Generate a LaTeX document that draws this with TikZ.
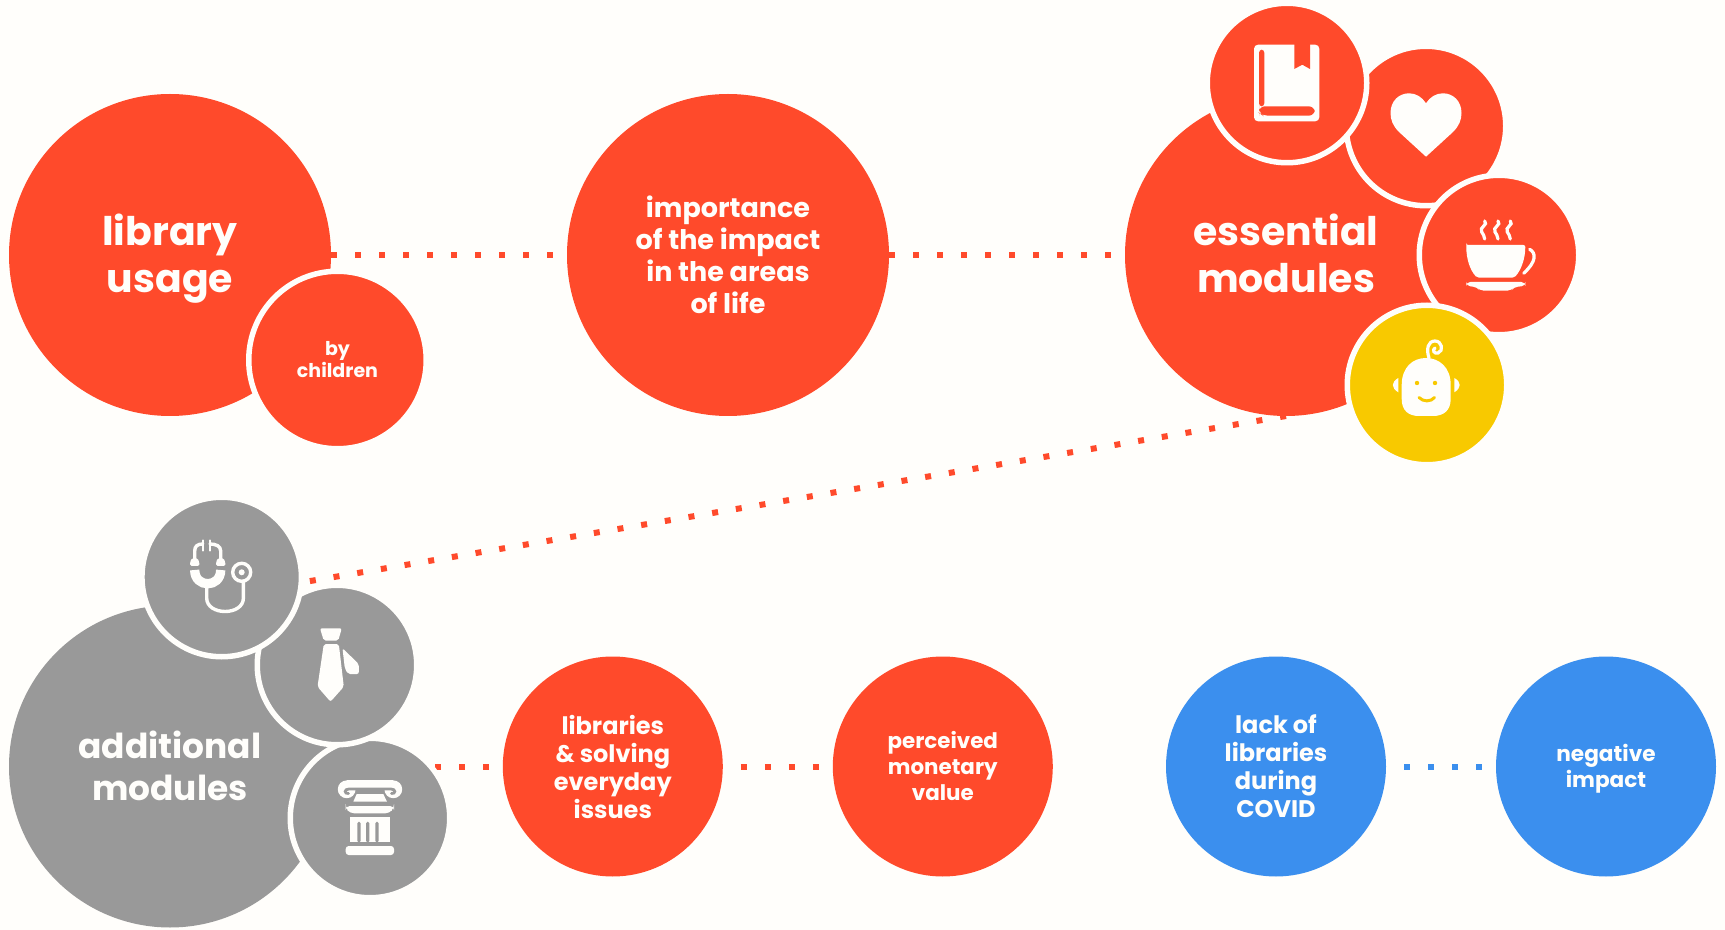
\documentclass[tikz,border=0pt]{standalone}
\usepackage{fontspec}
\setmainfont{Poppins}
\usetikzlibrary{shapes,arrows,backgrounds}
\definecolor{paper}{HTML}{FFFEFB}
\definecolor{redfill}{HTML}{FF4A2B}
\definecolor{greyfill}{HTML}{999999}
\definecolor{bluefill}{HTML}{3B8FEE}
\definecolor{yellowfill}{HTML}{F8C900}
\newcommand{\lift}[1]{\rule[-#1]{0pt}{#1}}
\tikzstyle{bubble} = [circle, inner sep=0pt, outer sep=0pt, text=paper, align=center, font=\bfseries]
\tikzstyle{large} = [bubble, minimum size=161pt]
\tikzstyle{medium} = [bubble, minimum size=110pt]
\tikzstyle{ringed} = [bubble, draw=paper, line width=2.75pt, minimum size=79.75pt]
\tikzstyle{line} = [draw, line width=3pt, dash pattern=on 3pt off 9pt]
\tikzset{
  bookicon/.pic={
    \fill [paper, rounded corners=2pt] (-33,-38.3) rectangle (32.3,38.3);
    \fill [redfill, rounded corners=1.5pt] (-28,-33.3) -- (-22.7,-33.3) -- (-22.7,23.3) -- (-28,23.3) -- cycle;
    \fill [redfill, rounded corners=3pt] (-28,27) -- (-28,23.3) -- (27.7,23.3) -- (27.7,32.7) -- (-24,32.7) -- (-28,30) -- cycle;
    \fill [redfill] (7.3,-39) -- (23,-39) -- (23,-14) -- (15.3,-18.3) -- (7.3,-14) -- cycle;
  },
  hearticon/.pic={
    \fill [paper] (0,30.7) -- (-27,6) .. controls (-33,0) and (-35.5,-6) .. (-35.5,-13)
      .. controls (-35.5,-25) and (-27,-32.7) .. (-17,-32.7) .. controls (-10,-32.7) and (-4,-29) .. (0,-22.7)
      .. controls (4,-29) and (10,-32.7) .. (17,-32.7) .. controls (27,-32.7) and (35.5,-25) .. (35.5,-13)
      .. controls (35.5,-6) and (33,0) .. (27,6) -- cycle;
  },
  cupicon/.pic={
    \fill [paper, rounded corners=1pt] (-32.7,-10) -- (26.3,-10) .. controls (26.3,4) and (22,15) .. (15.3,22.7)
      -- (-22,22.7) .. controls (-29,15) and (-32.7,4) .. (-32.7,-10) -- cycle;
    \fill [paper, rounded corners=2pt] (-32.7,27) -- (26.3,27) -- (26.3,31) -- (15,32) -- (12,35.7) -- (-19,35.7) -- (-22,32) -- (-32.7,31) -- cycle;
    \draw [paper, line width=1.6pt, line cap=round] (30.7,-5.7) .. controls (37,-2) and (38,6) .. (24.7,18.3);
    \foreach \sx in {-15.3,-2,10.3}
      \draw [paper, line width=1.6pt, line cap=round] (\sx+1,-34) .. controls (\sx+5,-30) and (\sx-5,-28) .. (\sx-2,-23)
        .. controls (\sx-1,-21) and (\sx+1,-19) .. (\sx+1,-16);
  },
  babyicon/.pic={
    \fill [paper] (-25.3,0) .. controls (-25.3,-18) and (-14,-27) .. (-1,-27) .. controls (12,-27) and (23.7,-18) .. (23.7,0)
      -- (23.7,14) .. controls (23.7,26) and (16,31) .. (6,31) -- (-8,31) .. controls (-18,31) and (-25.3,26) .. (-25.3,14) -- cycle;
    \fill [paper] (-28.7,-7) .. controls (-36,-3) and (-36,3) .. (-28.7,7.3) -- cycle;
    \fill [paper] (27.3,-7) .. controls (34.5,-3) and (34.5,3) .. (27.3,7.3) -- cycle;
    \fill [yellowfill] (-10,-2) circle (2.2) (8,-2) circle (2.2);
    \draw [yellowfill, line width=1.5pt, line cap=round] (-8,12.5) .. controls (-4,17) and (4,17) .. (7.5,12.5);
    \draw [paper, line width=1.6pt, line cap=round] (2,-27) .. controls (-1,-36) and (1,-44) .. (8,-44)
      .. controls (15,-44) and (17,-34) .. (11,-32) .. controls (7,-31) and (5,-35) .. (8,-37);
  },
  stethoicon/.pic={
    \draw [paper, line width=1.7pt, line cap=round] (-27,-17) -- (-27,-26) .. controls (-27,-31) and (-24,-33) .. (-19,-33);
    \draw [paper, line width=1.7pt, line cap=round] (-1,-17) -- (-1,-26) .. controls (-1,-31) and (-6,-33) .. (-11.7,-33);
    \draw [paper, line width=1.1pt, line cap=round] (-19,-36.5) -- (-19,-26.5) (-11.7,-36.5) -- (-11.7,-26.5);
    \fill [paper, rounded corners=.8pt] (-31.7,-11) -- (-31.7,-15) -- (-29.5,-19) -- (-24.5,-19) -- (-22.3,-15) -- (-22.3,-11) -- cycle;
    \fill [paper, rounded corners=.8pt] (-5.7,-11) -- (-5.7,-15) -- (-3.5,-19) -- (1.5,-19) -- (3.7,-15) -- (3.7,-11) -- cycle;
    \draw [paper, line width=4.65pt] (-27,-7) .. controls (-27,11.3) and (-1,11.3) .. (-1,-7);
    \draw [paper, line width=1.7pt] (-15,8) -- (-15,21) .. controls (-15,39) and (21.7,39) .. (21.7,21) -- (21.7,4);
    \draw [paper, line width=1.7pt] (20,-4.7) circle (9);
    \fill [paper] (20,-4.7) circle (3);
  },
  tieicon/.pic={
    \fill [paper, rounded corners=1pt] (-17,-36.7) -- (4.8,-36.7) -- (1.2,-24.3) -- (-13.2,-24.3) -- cycle;
    \fill [paper, rounded corners=1pt] (-13.2,-21) -- (1.8,-21) -- (6.8,21.7) -- (-6.5,36.7) -- (-19.5,21.7) -- cycle;
    \fill [paper, rounded corners=1pt] (5.5,-16.7) -- (21.8,-1) -- (21.8,9) -- (11,9) -- (7.8,3.3) -- cycle;
  },
  columnicon/.pic={
    \fill [paper] (-23.3,-28.7) circle (8.9) (23.3,-28.7) circle (8.9);
    \fill [paper] (-23,-38) rectangle (23,-28);
    \draw [greyfill, line width=1.4pt, line cap=round] (-21.5,-24.5) .. controls (-26,-24) and (-26,-29) .. (-21,-29)
      -- (21,-29) .. controls (26,-29) and (26,-24) .. (21.5,-24.5);
    \fill [paper] (-13.3,-24) -- (13.3,-24) -- (17,-16.3) -- (-16.7,-16.3) -- cycle;
    \fill [paper, rounded corners=2pt] (-24.3,-12) -- (24,-12) -- (24,-10) -- (19.3,-4.7) -- (-20,-4.7) -- (-24.3,-10) -- cycle;
    \fill [paper] (-19.7,-.7) rectangle (19.7,23.7);
    \foreach \gx in {-11,-2.3,7}
      \fill [greyfill, rounded corners=.8pt] (\gx-1.7,3.7) rectangle (\gx+1.7,24.5);
    \fill [paper, rounded corners=1.5pt] (-24.3,28) rectangle (24,37);
  }
}
\begin{document}
\begin{tikzpicture}[x=.5pt, y=-.5pt, node distance=279pt]
	\useasboundingbox (0,0) rectangle (1725,930);

	\node [large, fill=redfill, font=\fontsize{19.7}{23.5}\selectfont\bfseries] (usage) at (170,255) {library\\\smash{usage}\lift{2pt}};
	\node [large, fill=redfill, font=\fontsize{13.5}{16}\selectfont\bfseries, right of=usage] (importance) {importance\\of the impact\\in the areas\\of life};
	\node [large, fill=redfill, font=\fontsize{19.7}{23.5}\selectfont\bfseries, right of=importance] (essential) {essential\\modules\lift{2pt}};
	\node [ringed, fill=redfill, minimum size=88.75pt, font=\fontsize{9.5}{11}\selectfont\bfseries] (children) at (337.5,360) {by\\children};

	\node [ringed, fill=redfill] (heart) at (1426,126) {};
	\node [ringed, fill=redfill] (book) at (1287,83) {};
	\node [ringed, fill=redfill] (cup) at (1499,255) {};
	\node [ringed, fill=yellowfill] (baby) at (1427,385) {};

	\node [large, fill=greyfill, font=\fontsize{17.2}{21}\selectfont\bfseries] (additional) at (170,766.5) {additional\\modules\lift{1pt}};
	\node [ringed, fill=greyfill] (column) at (370,818) {};
	\node [ringed, fill=greyfill] (tie) at (337,665) {};
	\node [ringed, fill=greyfill] (stetho) at (221.7,577) {};

	\node [medium, fill=redfill, font=\fontsize{12}{14}\selectfont\bfseries, right of=additional, node distance=221.4pt] (solving) {libraries\\\& solving\\everyday\\issues};
	\node [medium, fill=redfill, font=\fontsize{10.7}{13}\selectfont\bfseries, right of=solving, node distance=165pt] (monetary) {perceived\\monetary\\value};
	\node [medium, fill=bluefill, font=\fontsize{12}{14}\selectfont\bfseries, right of=monetary, node distance=166.6pt] (covid) {lack of\\libraries\\during\\COVID};
	\node [medium, fill=bluefill, font=\fontsize{10.8}{13}\selectfont\bfseries, right of=covid, node distance=165pt] (negative) {negative\\\smash{impact}\lift{1pt}};

	\pic at (book) {bookicon};
	\pic at (heart) {hearticon};
	\pic at (cup) {cupicon};
	\pic at (baby) {babyicon};
	\pic at (stetho) {stethoicon};
	\pic at (tie) {tieicon};
	\pic at (column) {columnicon};

	\begin{pgfonlayer}{background}
		\fill [paper] (0,0) rectangle (1725,930);
		\path [line, redfill] (usage) -- (importance);
		\path [line, redfill] (importance) -- (essential);
		\path [line, redfill] (essential.south) -- (stetho.356);
		\path [line, redfill, dash phase=8pt] (additional.east) -- (solving.west);
		\path [line, redfill, dash phase=3pt] (solving.east) -- (monetary.west);
		\path [line, bluefill, dash phase=3pt] (covid.east) -- (negative.west);
	\end{pgfonlayer}
\end{tikzpicture}
\end{document}
